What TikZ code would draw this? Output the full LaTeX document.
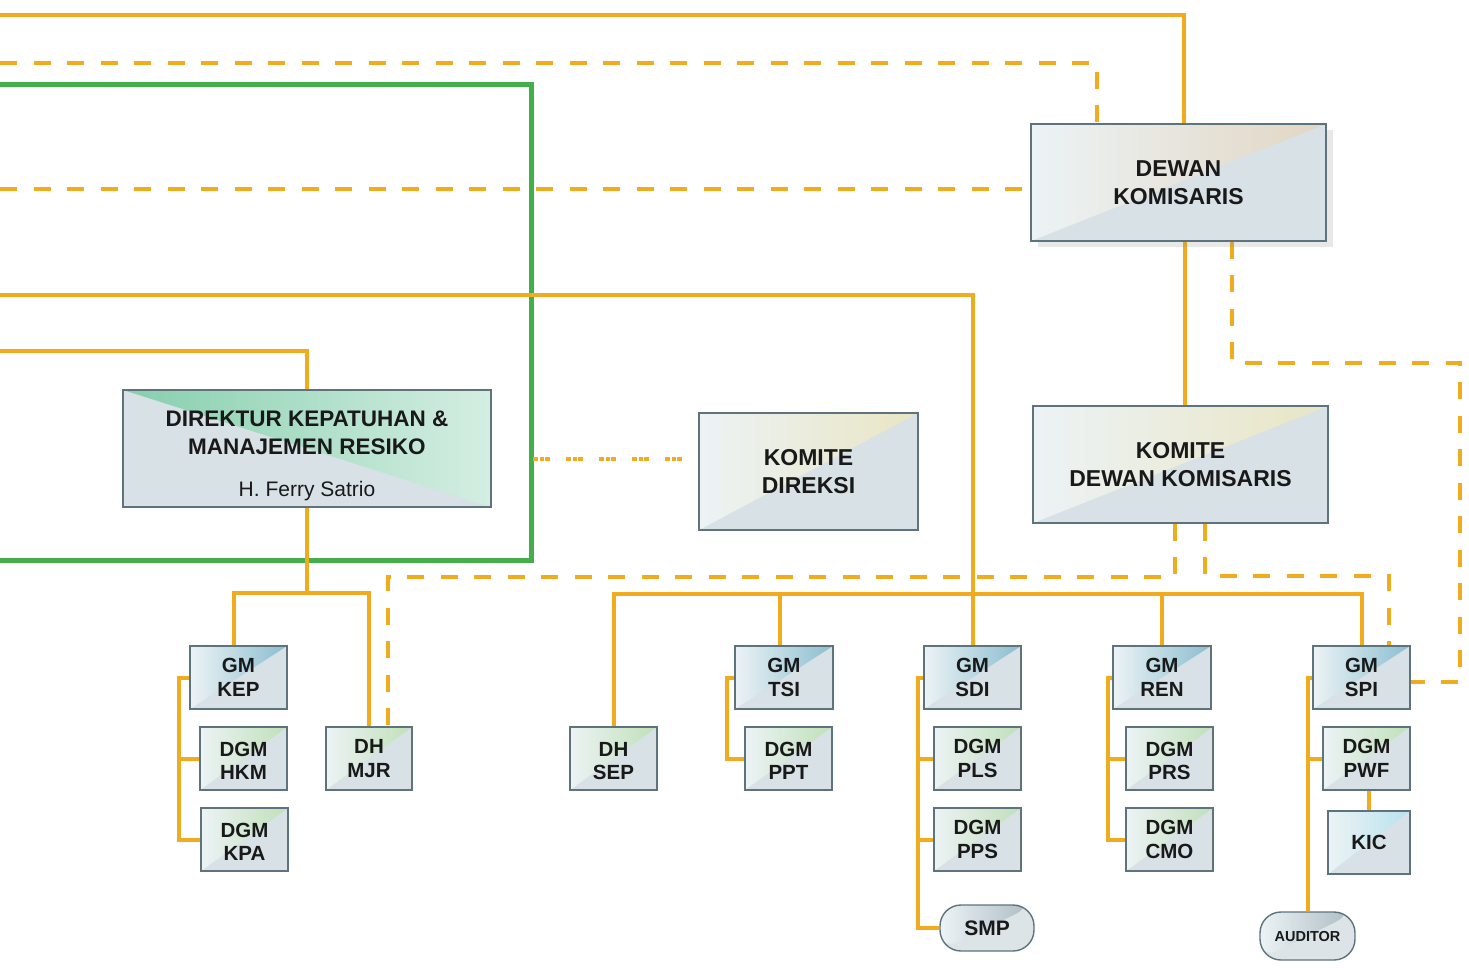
\documentclass[tikz,border=0pt]{standalone}
\usepackage{fontspec}
\setmainfont{Liberation Sans}
\usetikzlibrary{backgrounds,shadows}
\definecolor{org}{RGB}{240,171,30}
\definecolor{grn}{RGB}{68,174,74}
\definecolor{edge}{RGB}{95,115,125}
\definecolor{base}{RGB}{216,225,230}
\definecolor{beige}{RGB}{226,214,196}
\definecolor{pyel}{RGB}{233,229,196}
\definecolor{dgreen}{RGB}{134,207,173}
\definecolor{gmblue}{RGB}{138,189,207}
\definecolor{dgmgreen}{RGB}{192,224,184}
\definecolor{kicblue}{RGB}{184,226,238}
\definecolor{blobg}{RGB}{170,186,194}
\definecolor{lite}{RGB}{236,243,245}
\definecolor{txt}{RGB}{25,25,25}
\tikzset{
  oline/.style={draw=org, line width=4pt},
  odash/.style={draw=org, line width=4pt, dash pattern=on 17pt off 16.5pt},
  odot/.style={draw=org, line width=3.5pt, dash pattern=on 5pt off 1.5pt on 4pt off 1.5pt on 5pt off 16pt},
  gline/.style={draw=grn, line width=5pt},
  glass/.style={draw=edge, line width=1.4pt, fill=base, inner sep=0pt, align=center, text=txt},
  triUL/.style={path picture={\shade[left color=lite, right color=#1]
      (path picture bounding box.north west) -- (path picture bounding box.north east)
      -- (path picture bounding box.south west) -- cycle;}},
  triUR/.style={path picture={\shade[left color=#1, right color=#1!35!white]
      (path picture bounding box.north west) -- (path picture bounding box.north east)
      -- (path picture bounding box.south east) -- cycle;}},
  bigbox/.style={glass, minimum width=295pt, minimum height=117pt,
      font=\bfseries\fontsize{23}{28}\selectfont},
  smallbox/.style={glass, minimum width=87pt, minimum height=63pt,
      font=\bfseries\fontsize{20.5}{23.5}\selectfont},
  gmbox/.style={smallbox, minimum width=97pt, triUL=gmblue},
  dgmbox/.style={smallbox, triUL=dgmgreen},
  blob/.style={glass, rounded corners=21pt, triUL=blobg, fill=base!90!white},
}
\begin{document}
\begin{tikzpicture}[x=1pt,y=-1pt]
\useasboundingbox (0,0) rectangle (1469,967);

% ---------- nodes ----------
\node[bigbox, triUL=beige, drop shadow={shadow xshift=7pt, shadow yshift=-6pt, opacity=.18, fill=gray}] (dk) at (1178.5,182.5) {DEWAN\\KOMISARIS};
\node[glass, minimum width=368pt, minimum height=117pt, triUR=dgreen,
      font=\bfseries\fontsize{22.5}{28}\selectfont] (dir) at (307,448.5)
      {\rule{0pt}{31pt}DIREKTUR KEPATUHAN \&\\MANAJEMEN RESIKO\\[14pt]{\mdseries\fontsize{21}{28}\selectfont H. Ferry Satrio}};
\node[bigbox, minimum width=219pt, triUL=pyel] (kd) at (808.5,471.5) {KOMITE\\DIREKSI};
\node[bigbox, triUL=pyel] (kdk) at (1180.5,464.5) {KOMITE\\DEWAN KOMISARIS};

\node[gmbox] (gmkep) at (238.5,677.5) {GM\\KEP};
\node[dgmbox] (hkm) at (243.5,758.5) {\rule{0pt}{19pt}DGM\\HKM};
\node[dgmbox] (kpa) at (244.5,839.5) {\rule{0pt}{19pt}DGM\\KPA};
\node[dgmbox, minimum width=86pt] (mjr) at (369,758.5) {DH\\MJR};
\node[dgmbox] (sep) at (613.5,758.5) {\rule{0pt}{19pt}DH\\SEP};
\node[gmbox, minimum width=98pt] (tsi) at (784,677.5) {GM\\TSI};
\node[dgmbox] (ppt) at (788.5,758.5) {\rule{0pt}{19pt}DGM\\PPT};
\node[gmbox] (sdi) at (972.5,677.5) {GM\\SDI};
\node[dgmbox] (pls) at (977.5,758.5) {DGM\\PLS};
\node[dgmbox] (pps) at (977.5,839.5) {DGM\\PPS};
\node[blob, minimum width=94pt, minimum height=46pt, font=\bfseries\fontsize{21}{24}\selectfont] (smp) at (987,928) {SMP};
\node[gmbox, minimum width=98pt] (ren) at (1162,677.5) {GM\\REN};
\node[dgmbox] (prs) at (1169.5,758.5) {\rule{0pt}{19pt}DGM\\PRS};
\node[dgmbox] (cmo) at (1169.5,839.5) {DGM\\CMO};
\node[gmbox] (spi) at (1361.5,677.5) {GM\\SPI};
\node[dgmbox] (pwf) at (1366.5,758.5) {DGM\\PWF};
\node[smallbox, minimum width=82pt, triUL=kicblue] (kic) at (1369,842.5) {KIC};
\node[blob, minimum width=95pt, minimum height=48pt, font=\bfseries\fontsize{14.5}{17}\selectfont] (aud) at (1307.5,936) {AUDITOR};

% ---------- connectors ----------
\begin{pgfonlayer}{background}
  % green frame
  \coordinate (g1) at (0,84);
  \coordinate (g2) at (0,560);
  \draw[gline] (g1) -- (531,84) -- (531,560) -- (g2);
  % top lines
  \coordinate (t1) at (0,15);
  \draw[oline] (t1) -| (1184,0 |- dk.north);
  \coordinate (t2) at (0,63);
  \draw[odash] (t2) -| (1097,0 |- dk.north);
  \coordinate (t3) at (0,189);
  \draw[odash] (t3) -- (dk.west |- t3);
  \coordinate (t4) at (0,295);
  \draw[oline] (t4) -| (sdi.north);
  \coordinate (t5) at (0,351);
  \draw[oline] (t5) -| (dir.north);
  % dotted link
  \coordinate (dt) at (533,459);
  \draw[odot] (dt) -- (kd.west |- dt);
  % direktur subtree
  \coordinate (jd) at (307,593);
  \draw[oline] (dir.south) -- (jd);
  \draw[oline] (234,0 |- gmkep.north) |- (jd) -| (mjr.north);
  % dewan -> komite dewan
  \draw[oline] (1185,0 |- dk.south) -- (1185,0 |- kdk.north);
  \draw[odash] (1232,0 |- dk.south) |- (1460,363) |- (spi.east |- 0,682);
  % komite dewan dashed
  \draw[odash] (1175,0 |- kdk.south) |- (388,577) -- (388,0 |- mjr.north);
  \draw[odash] (1205,0 |- kdk.south) |- (1389,576) -- (1389,0 |- spi.north);
  % bus
  \draw[oline] (sep.north) |- (spi.north |- 0,594) -- (spi.north);
  \draw[oline] (780,0 |- tsi.north) -- (780,594);
  \draw[oline] (ren.north) -- (ren.north |- 0,594);
  % brackets
  \draw[oline] (gmkep.west) -| (179,0 |- kpa.west) -- (kpa.west);
  \draw[oline] (179,0 |- hkm.west) -- (hkm.west);
  \draw[oline] (tsi.west) -| (727,0 |- ppt.west) -- (ppt.west);
  \draw[oline] (sdi.west) -| (918,0 |- smp.west) -- (smp.west);
  \draw[oline] (918,0 |- pls.west) -- (pls.west);
  \draw[oline] (918,0 |- pps.west) -- (pps.west);
  \draw[oline] (ren.west) -| (1108,0 |- cmo.west) -- (cmo.west);
  \draw[oline] (1108,0 |- prs.west) -- (prs.west);
  \draw[oline] (spi.west) -| (aud.north);
  \draw[oline] (aud.north |- pwf.west) -- (pwf.west);
  \draw[oline] (1369,0 |- pwf.south) -- (kic.north);
\end{pgfonlayer}
\end{tikzpicture}
\end{document}
